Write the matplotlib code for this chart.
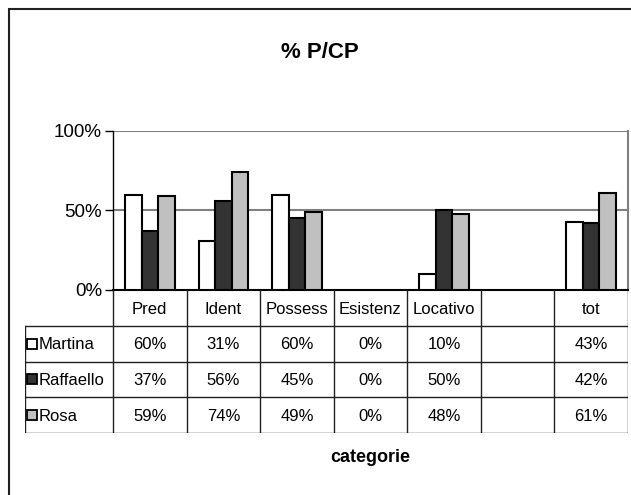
import numpy as np
import matplotlib
matplotlib.use("Agg")
import matplotlib.pyplot as plt
from matplotlib.patches import Rectangle

plt.rcParams['font.family'] = ['Liberation Sans', 'DejaVu Sans']

categories = ["Pred", "Ident", "Possess", "Esistenz", "Locativo", "", "tot"]
series_names = ["Martina", "Raffaello", "Rosa"]
martina = [60, 31, 60, 0, 10, None, 43]
raffaello = [37, 56, 45, 0, 50, None, 42]
rosa = [59, 74, 49, 0, 48, None, 61]
yticks = [0, 50, 100]
ytick_labels = ["0%", "50%", "100%"]

colors = ["#ffffff", "#333333", "#c0c0c0"]
values = [martina, raffaello, rosa]

W, H = 631, 495
fig = plt.figure(figsize=(W / 100, H / 100), dpi=100)

# outer chart frame
fig.patches.append(Rectangle((8.5 / W, -0.1), 1.2, 1.1 - 8.5 / H, transform=fig.transFigure,
                             fill=False, edgecolor="#202020", linewidth=1.5))

# plot area
x0, x1, ytop, ybot = 113, 628, 131, 290
ax = fig.add_axes([x0 / W, 1 - ybot / H, (x1 - x0) / W, (ybot - ytop) / H])
n = len(categories)
x = np.arange(n)
bw = 0.225
for i, (vals, c) in enumerate(zip(values, colors)):
    xs = [xx for xx, v in zip(x, vals) if v is not None and v > 0]
    hs = [v for v in vals if v is not None and v > 0]
    ax.bar(np.array(xs) + (i - 1) * bw, hs, width=bw, color=c, edgecolor="black", linewidth=1.5, zorder=3)

ax.set_xlim(-0.5, n - 0.5)
ax.set_ylim(0, 100)
ax.set_yticks(yticks)
ax.set_yticklabels(ytick_labels, fontsize=13.5)
ax.set_xticks([])
ax.tick_params(axis="y", length=6, width=1, color="black", pad=2)
for y in [50, 100]:
    ax.axhline(y, color="#808080", linewidth=1.5, zorder=1)
ax.spines["top"].set_visible(False)
ax.spines["right"].set_color("#808080")
ax.spines["right"].set_linewidth(1.5)
ax.spines["left"].set_linewidth(1.0)
ax.spines["bottom"].set_linewidth(1.5)

# data table below the plot
tl = 25
tb = 433
tax = fig.add_axes([tl / W, 1 - tb / H, (x1 - tl) / W, (tb - ybot) / H])
colw = (x1 - x0) / n
left = -0.5 - (x0 - tl) / colw
tax.set_xlim(left, n - 0.5)
tax.set_ylim(4, 0)
tax.axis("off")
lc = "#202020"
for k in range(n + 1):
    tax.plot([k - 0.5, k - 0.5], [0, 4], color=lc, linewidth=1.0)
tax.plot([left, left], [1, 4], color=lc, linewidth=1.0)
for r in [1, 2, 3, 4]:
    tax.plot([left, n - 0.5], [r, r], color=lc, linewidth=1.0)

for j, cat in enumerate(categories):
    tax.text(j, 0.55, cat, ha="center", va="center", fontsize=12)
for i, (name, vals, c) in enumerate(zip(series_names, values, colors)):
    r = i + 1.53
    tax.plot([left + 7 / colw], [i + 1.5], marker="s", markersize=7.5, markerfacecolor=c,
             markeredgecolor="black", markeredgewidth=1.3, clip_on=False)
    tax.text(left + 14 / colw, r, name, ha="left", va="center", fontsize=12)
    for j, v in enumerate(vals):
        if v is not None:
            tax.text(j, r, f"{v}%", ha="center", va="center", fontsize=12)

fig.text(320 / W, 1 - 53 / H, "% P/CP", ha="center", va="center", fontsize=16, fontweight="bold")
fig.text(370 / W, 1 - 458 / H, "categorie", ha="center", va="center", fontsize=13, fontweight="bold")

fig.savefig("out.png", dpi=100)
